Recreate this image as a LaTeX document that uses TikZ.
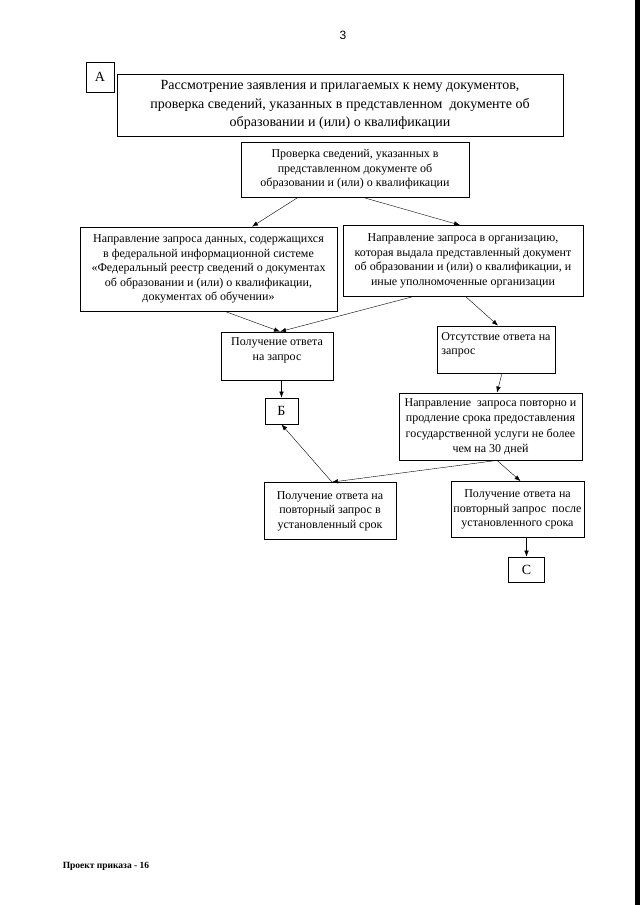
\documentclass[tikz,border=0pt]{standalone}
\usepackage{fontspec}
\setmainfont{Liberation Serif}
\newfontfamily\pagefont{Liberation Sans}
\usepackage{tikz}
\usetikzlibrary{arrows.meta,positioning,calc}

\begin{document}
\begin{tikzpicture}[x=1pt,y=-1pt,>={Latex[length=6pt,width=4.5pt]},
  box/.style={draw,line width=0.8pt,align=center,inner sep=2pt,font=\fontsize{12}{14.5}\selectfont},
  bigbox/.style={box,font=\fontsize{14}{18.5}\selectfont},
  letterbox/.style={box,font=\fontsize{14}{16}\selectfont}]
  \useasboundingbox (0,0) rectangle (640,905);
  \fill (635,0) rectangle (640,905);
  \node[font=\pagefont\fontsize{12}{14}\selectfont] (pagenum) at (343,35) {3};
  % stage A
  \node[letterbox,minimum width=28,minimum height=30] (A) at (100,77) {А};
  \node[bigbox,minimum width=446,minimum height=62] (title) at (340,105)
    {Рассмотрение заявления и прилагаемых к нему документов,\\
     проверка сведений, указанных в представленном\ \ документе об\\
     образовании и (или) о квалификации};
  \node[box,minimum width=228,minimum height=55] (chk) at (355,169.5)
    {Проверка сведений, указанных в\\ представленном документе об\\ образовании и (или) о квалификации};
  % requests
  \node[box,minimum width=257,minimum height=84] (lq) at (208.5,269)
    {Направление запроса данных, содержащихся\\ в федеральной информационной системе\\
     «Федеральный реестр сведений о документах\\ об образовании и (или) о квалификации,\\ документах об обучении»};
  \node[box,minimum width=240,minimum height=71] (rq) at (463,261)
    {Направление запроса в организацию,\\ которая выдала представленный документ\\
     об образовании и (или) о квалификации, и\\ иные уполномоченные организации};
  % answers
  \node[box,minimum width=112,minimum height=48,text depth=14pt] (ans) at (277,356)
    {Получение ответа\\ на запрос};
  \node[box,minimum width=118,minimum height=47,align=left,text depth=12pt] (noans) at (496,349.5)
    {Отсутствие ответа на\\ запрос};
  \node[letterbox,minimum width=33,minimum height=26] (B) at (281.5,411) {Б};
  \node[box,minimum width=183,minimum height=67,font=\fontsize{12}{15.5}\selectfont] (rep) at (490.5,426.5)
    {Направление\ \ запроса повторно и\\ продление срока предоставления\\
     государственной услуги не более\\ чем на 30 дней};
  \node[box,minimum width=132,minimum height=57] (ok) at (330,511)
    {Получение ответа на\\ повторный запрос в\\ установленный срок};
  \node[box,minimum width=133,minimum height=56] (late) at (517.5,509.5)
    {Получение ответа на\\ повторный запрос\ \ после\\ установленного срока};
  \node[letterbox,minimum width=36,minimum height=25] (C) at (526.5,569.5) {С};
  % connectors
  \draw[->] ([xshift=-57]chk.south) -- ([xshift=43.5]lq.north);
  \draw[->] ([xshift=8]chk.south) -- ([xshift=-3]rq.north);
  \draw[->] ([xshift=16.5]lq.south) -- ([xshift=3]ans.north);
  \draw[->] ([xshift=-51]rq.south) -- ([xshift=3]ans.north);
  \draw[->] ([xshift=3]rq.south) -- ([xshift=2]noans.north);
  \draw[->] (ans.south -| B.north) -- (B.north);
  \draw[->] ([xshift=6]noans.south) -- ([xshift=6.5]rep.north);
  \draw[->] ([xshift=6.5]rep.south) -- ([xshift=2]ok.north);
  \draw[->] ([xshift=6.5]rep.south) -- ([xshift=3]late.north);
  \draw[->] ([xshift=2]ok.north) -- (B.south);
  \draw[->] (late.south -| C.north) -- (C.north);
  \node[font=\bfseries\fontsize{9.5}{11}\selectfont] (footer) at (106,866) {Проект приказа - 16};
\end{tikzpicture}
\end{document}
